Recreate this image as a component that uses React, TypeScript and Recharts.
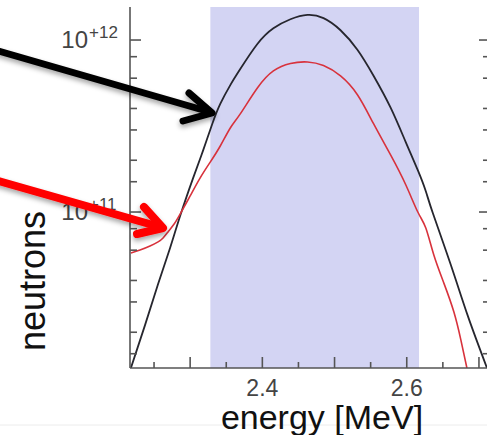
import React from 'react';
import { LineChart, Line, XAxis, YAxis, ReferenceArea } from 'recharts';

// black curve
const blackEnergy = [2.218, 2.2375, 2.2556, 2.2722, 2.2861, 2.3042, 2.3181, 2.3306, 2.3417, 2.3556, 2.3694, 2.3931, 2.4153, 2.4389, 2.4625, 2.4847, 2.5083, 2.5319, 2.5542, 2.5778, 2.5986, 2.6153, 2.6264, 2.6361, 2.6611, 2.6847, 2.7111];
const blackNeutrons = [1.24e10, 2.2e10, 3.81e10, 6.18e10, 9.48e10, 1.58e11, 2.29e11, 3.25e11, 4.25e11, 5.47e11, 6.78e11, 9.48e11, 1.17e12, 1.32e12, 1.4e12, 1.34e12, 1.14e12, 8.75e11, 6.18e11, 4.03e11, 2.55e11, 1.75e11, 1.32e11, 9.86e10, 4.92e10, 2.48e10, 1.24e10];

// red curve
const redEnergy = [2.218, 2.2306, 2.2444, 2.2556, 2.2625, 2.2694, 2.2778, 2.2861, 2.3, 2.3139, 2.3278, 2.3417, 2.3556, 2.3694, 2.3931, 2.4153, 2.4389, 2.4625, 2.4847, 2.5083, 2.5319, 2.5542, 2.5778, 2.5986, 2.6153, 2.6264, 2.6375, 2.6514, 2.6653, 2.675, 2.6833];
const redNeutrons = [5.78e10, 6.01e10, 6.34e10, 6.7e10, 7.06e10, 7.66e10, 8.51e10, 9.72e10, 1.24e11, 1.58e11, 1.95e11, 2.42e11, 3.08e11, 3.72e11, 5.26e11, 6.61e11, 7.3e11, 7.45e11, 7.1e11, 6.18e11, 4.79e11, 3.25e11, 2.14e11, 1.44e11, 1.0e11, 8.07e10, 5.62e10, 3.86e10, 2.62e10, 1.8e10, 1.24e10];

const band = [2.328, 2.617];
const xTicks = [2.25, 2.3, 2.35, 2.4, 2.45, 2.5, 2.55, 2.6, 2.65, 2.7];
const xLabels = [2.4, 2.6];
const xMajor = [2.3, 2.4, 2.5, 2.6, 2.7];
const yTicks = [1.5e10, 2e10, 3e10, 4e10, 6e10, 8e10, 1e11, 1.5e11, 2e11, 3e11, 4e11, 6e11, 8e11, 1e12];

const blackData = blackEnergy.map((e, i) => ({ e, v: blackNeutrons[i] }));
const redData = redEnergy.map((e, i) => ({ e, v: redNeutrons[i] }));

const FONT = '"Liberation Sans", Arial, Helvetica, sans-serif';
const AXIS = '#555';

const isDecade = (v: number) => {
  const l = Math.log10(v);
  return Math.abs(l - Math.round(l)) < 1e-6;
};
const isMajorX = (v: number) => xMajor.some((m) => Math.abs(m - v) < 1e-6);

const LeftTick = (props: any) => {
  const { x, y, payload } = props;
  const major = isDecade(payload.value);
  const exp = Math.round(Math.log10(payload.value));
  return (
    <g>
      <line x1={x} x2={x + (major ? 11 : 7)} y1={y} y2={y} stroke={AXIS} strokeWidth={1.6} />
      {major && (
        <>
          <text x={88} y={y + 8} textAnchor="end" fontSize={24} fill="#444" fontFamily={FONT}>10</text>
          <text x={89} y={y - 2} textAnchor="start" fontSize={17} fill="#444" fontFamily={FONT}>{`+${exp}`}</text>
        </>
      )}
    </g>
  );
};

const RightTick = (props: any) => {
  const { x, y, payload } = props;
  const major = isDecade(payload.value);
  return <line x1={x} x2={x - (major ? 11 : 7)} y1={y} y2={y} stroke={AXIS} strokeWidth={1.6} />;
};

const BottomTick = (props: any) => {
  const { x, y, payload } = props;
  const v = payload.value;
  const major = isMajorX(v);
  const labeled = xLabels.some((m) => Math.abs(m - v) < 1e-6);
  return (
    <g>
      <line x1={x} x2={x} y1={y} y2={y - (major ? 11 : 6)} stroke={AXIS} strokeWidth={1.6} />
      {labeled && (
        <text x={x} y={y + 28} textAnchor="middle" fontSize={23} fill="#444" fontFamily={FONT}>
          {v.toFixed(1)}
        </text>
      )}
    </g>
  );
};

const TopTick = (props: any) => {
  const { x, y, payload } = props;
  const major = isMajorX(payload.value);
  return <line x1={x} x2={x} y1={y} y2={y + (major ? 11 : 6)} stroke={AXIS} strokeWidth={1.6} />;
};

const Overlay = () => (
  <svg width={487} height={435} style={{ position: 'absolute', left: 0, top: 0, pointerEvents: 'none' }}>
    <defs>
      <filter id="shadow" x="-20%" y="-50%" width="140%" height="200%">
        <feDropShadow dx="0" dy="3" stdDeviation="2.5" floodColor="#000" floodOpacity="0.35" />
      </filter>
    </defs>
    <line x1={0} y1={425} x2={487} y2={425} stroke="#ececec" strokeWidth={1} />
    <text x={45} y={281} transform="rotate(-90 45 281)" textAnchor="middle" fontSize={36} fill="#111" fontFamily={FONT}>
      neutrons
    </text>
    <text x={322} y={429} textAnchor="middle" fontSize={34} fill="#111" fontFamily={FONT}>
      energy [MeV]
    </text>
    <g filter="url(#shadow)" fill="none" strokeLinecap="round" strokeLinejoin="round">
      <line x1={-5} y1={50} x2={210} y2={112} stroke="#000" strokeWidth={7} />
      <polyline points="189,93 212,113 183,121" stroke="#000" strokeWidth={7} />
    </g>
    <g filter="url(#shadow)" fill="none" strokeLinecap="round" strokeLinejoin="round">
      <line x1={-5} y1={180} x2={160} y2={227} stroke="#ff0000" strokeWidth={8} />
      <polyline points="144,207 163,228 137,234" stroke="#ff0000" strokeWidth={8} />
    </g>
  </svg>
);

export default function App() {
  return (
    <div style={{ position: 'absolute', left: 0, top: 0, width: 487, height: 435, overflow: 'hidden', background: '#fff' }}>
      <LineChart width={500} height={435} margin={{ top: 7, right: 0, bottom: 0, left: 0 }}>
        <XAxis
          dataKey="e"
          type="number"
          domain={[2.2167, 2.7153]}
          ticks={xTicks}
          allowDataOverflow
          height={67}
          tickSize={0}
          tickMargin={0}
          tickLine={false}
          interval={0}
          axisLine={{ stroke: AXIS, strokeWidth: 1.6 }}
          tick={<BottomTick />}
        />
        <XAxis
          xAxisId="t"
          orientation="top"
          type="number"
          domain={[2.2167, 2.7153]}
          ticks={xTicks}
          allowDataOverflow
          height={0}
          tickSize={0}
          tickMargin={0}
          tickLine={false}
          interval={0}
          axisLine={{ stroke: AXIS, strokeWidth: 1.6 }}
          tick={<TopTick />}
        />
        <YAxis
          scale="log"
          type="number"
          domain={[1.239e10, 1.556e12]}
          ticks={yTicks}
          allowDataOverflow
          width={130}
          tickSize={0}
          tickMargin={0}
          tickLine={false}
          interval={0}
          axisLine={{ stroke: AXIS, strokeWidth: 1.6 }}
          tick={<LeftTick />}
        />
        <YAxis
          yAxisId="r"
          orientation="right"
          scale="log"
          type="number"
          domain={[1.239e10, 1.556e12]}
          ticks={yTicks}
          allowDataOverflow
          width={10}
          tickSize={0}
          tickMargin={0}
          tickLine={false}
          interval={0}
          axisLine={{ stroke: AXIS, strokeWidth: 1.6 }}
          tick={<RightTick />}
        />
        <ReferenceArea x1={band[0]} x2={band[1]} fill="#d3d4f3" fillOpacity={1} stroke="none" />
        <Line data={blackData} dataKey="v" type="natural" stroke="#26262e" strokeWidth={1.8} dot={false} isAnimationActive={false} />
        <Line data={redData} dataKey="v" type="natural" stroke="#d8323c" strokeWidth={1.6} dot={false} isAnimationActive={false} />
      </LineChart>
      <Overlay />
    </div>
  );
}
